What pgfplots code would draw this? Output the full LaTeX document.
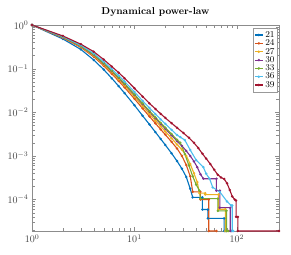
\documentclass[border=0pt]{standalone}
\usepackage{pgfplots}
\pgfplotsset{compat=1.18}
\definecolor{c1}{rgb}{0,0.447,0.741}
\definecolor{c2}{rgb}{0.85,0.325,0.098}
\definecolor{c3}{rgb}{0.929,0.694,0.125}
\definecolor{c4}{rgb}{0.494,0.184,0.556}
\definecolor{c5}{rgb}{0.466,0.674,0.188}
\definecolor{c6}{rgb}{0.301,0.745,0.933}
\definecolor{c7}{rgb}{0.635,0.078,0.184}
\begin{document}
\begin{tikzpicture}
\begin{axis}[
  name=ax,
  scale only axis, width=247pt, height=206pt,
  xmode=log, ymode=log,
  xmin=1, xmax=257, ymin=1.9e-5, ymax=1,
  title={\bfseries Dynamical power-law},
  title style={yshift=-1pt},
  axis line style={black!45},
  tick style={black!45},
  ticklabel style={text=black!75},
  tick align=inside,
  clip=false,
  every axis plot/.append style={line width=1.1pt, mark=*, mark size=0.6pt},
  legend style={at={(0.995,0.985)}, anchor=north east, font=\small, draw=black!40, inner sep=1pt, row sep=-3.2pt, legend cell align=left},
  legend image code/.code={\draw[mark repeat=2,mark phase=2] plot coordinates {(0cm,0cm) (0.14cm,0cm) (0.28cm,0cm)};},
]
\addplot[c1] coordinates {(1,1) (2,0.479) (3,0.275) (4,0.158) (5,0.0955) (6,0.0603) (7,0.0398) (8,0.0275) (10,0.01445) (12,0.00832) (14,0.00525) (16,0.00351) (18,0.00245) (20,0.00178) (23,0.00115) (26,7.6e-4) (29,5.1e-4) (32,3.3e-4) (35,1.76e-4) (37,1.12e-4) (46,1.12e-4) (46,5.9e-5) (52,5.9e-5) (52,3.7e-5) (75,3.7e-5) (75,1.9e-5) (78,1.9e-5)};
\addlegendentry{21}
\addplot[c2] coordinates {(1,1) (2,0.509) (3,0.306) (4,0.187) (5,0.117) (6,0.0764) (7,0.0522) (8,0.0371) (10,0.0203) (12,0.01222) (14,0.00802) (16,0.00557) (18,0.00406) (20,0.00306) (23,0.0021) (26,0.00148) (29,1.0e-3) (32,6.2e-4) (35,3.4e-4) (37,1.5e-4) (44,1.5e-4) (44,1.0e-4) (53,1.0e-4) (53,1.9e-5) (63,1.9e-5)};
\addlegendentry{24}
\addplot[c3] coordinates {(1,1) (2,0.519) (3,0.316) (4,0.197) (5,0.124) (6,0.0822) (7,0.0569) (8,0.0407) (10,0.0226) (12,0.0138) (14,0.00917) (16,0.00646) (18,0.00476) (20,0.00363) (23,0.00254) (26,0.00183) (29,1.4e-3) (32,1.0e-3) (35,6.5e-4) (38,4e-4) (41,2.5e-4) (43,1.4e-4) (49,1.4e-4) (49,1.3e-4) (66,1.3e-4) (66,6e-5) (77,6e-5) (77,1.9e-5) (80,1.9e-5)};
\addlegendentry{27}
\addplot[c4] coordinates {(1,1) (2,0.527) (3,0.325) (4,0.206) (5,0.131) (6,0.0875) (7,0.0611) (8,0.0441) (10,0.0248) (12,0.0153) (14,0.01026) (16,0.0073) (18,0.00543) (20,0.00419) (23,0.00298) (26,0.00218) (29,1.7e-3) (32,1.3e-3) (35,1.0e-3) (38,7.5e-4) (41,5.5e-4) (44,3.8e-4) (47,3.0e-4) (63,3.0e-4) (63,1.6e-4) (68,1.6e-4) (68,6.5e-5) (86,6.5e-5) (86,1.9e-5) (88,1.9e-5)};
\addlegendentry{30}
\addplot[c5] coordinates {(1,1) (2,0.531) (3,0.329) (4,0.210) (5,0.134) (6,0.0897) (7,0.0628) (8,0.0455) (10,0.0257) (12,0.0159) (14,0.01072) (16,0.00766) (18,0.00573) (20,0.00444) (23,0.00318) (26,0.00234) (28,2.0e-3) (31,1.1e-3) (34,6.0e-4) (37,3.4e-4) (40,2.2e-4) (43,1.6e-4) (44,1.05e-4) (65,1.05e-4) (65,5.5e-5) (79,5.5e-5) (79,1.9e-5) (82,1.9e-5)};
\addlegendentry{33}
\addplot[c6] coordinates {(1,1) (2,0.543) (3,0.342) (4,0.223) (5,0.144) (6,0.098) (7,0.0695) (8,0.0507) (10,0.0291) (12,0.0183) (14,0.01253) (16,0.00908) (18,0.00689) (20,0.00542) (23,0.00396) (26,0.003) (28,2.7e-3) (31,2.3e-3) (35,1.36e-3) (40,8e-4) (47,5.5e-4) (50,3.9e-4) (54,3.0e-4) (58,1.9e-4) (68,1.5e-4) (80,9e-5) (88,7.3e-5) (90,7.3e-5) (90,1.9e-5) (92,1.9e-5)};
\addlegendentry{36}
\addplot[c7] coordinates {(1,1) (2,0.562) (3,0.363) (4,0.245) (5,0.162) (6,0.112) (7,0.0813) (8,0.0603) (10,0.0355) (12,0.0229) (14,0.016) (16,0.0119) (18,0.00923) (20,0.00741) (23,0.00562) (26,0.00442) (30,0.00335) (34,0.0026) (38,0.002) (42,0.00151) (46,0.00112) (50,8.7e-4) (55,6.5e-4) (60,4.8e-4) (65,3.7e-4) (70,3.2e-4) (75,2.95e-4) (80,2.35e-4) (85,1.66e-4) (90,1.17e-4) (95,1.0e-4) (98,9.5e-5) (98,4e-5) (102,4e-5) (102,1.9e-5) (257,1.9e-5)};
\addlegendentry{39}
\end{axis}
\pgfresetboundingbox
\path ([shift={(-32pt,-23pt)}]ax.south west) rectangle ([shift={(12pt,25pt)}]ax.north east);
\end{tikzpicture}
\end{document}
